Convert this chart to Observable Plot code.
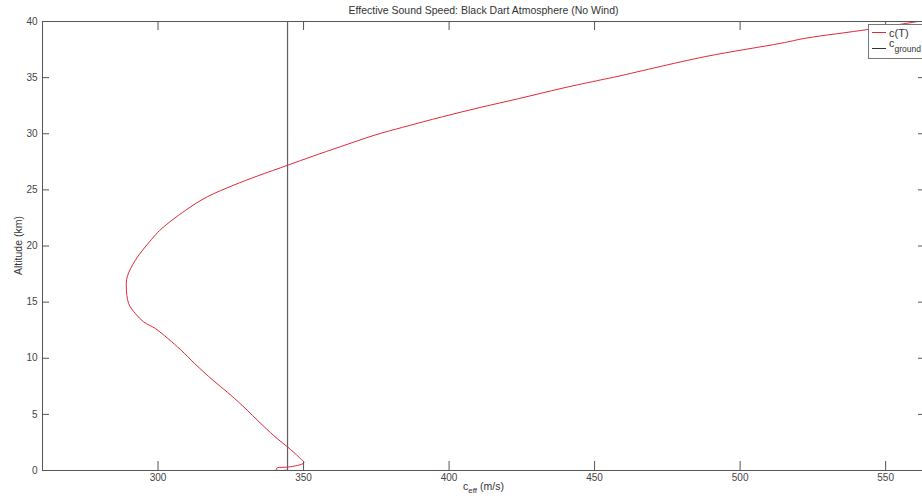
<!DOCTYPE html>
<html>
<head>
<meta charset="utf-8">
<script src="https://cdn.jsdelivr.net/npm/d3@7"></script>
<script src="https://cdn.jsdelivr.net/npm/@observablehq/plot@0.6"></script>
<style>
  html, body { margin: 0; padding: 0; background: #fff; overflow: hidden; }
  #wrap { width: 922px; height: 498px; overflow: hidden; position: relative; }
  #wrap svg { max-width: none !important; display: block; }
</style>
</head>
<body>
<div id="wrap"></div>
<script>
// ---- data ----
const altitudeKm = [0.04, 0.0, 0.09, 0.24, 0.31, 0.69, 1.19, 2.08, 2.83, 4.01, 5.80, 6.98, 8.03, 9.52, 10.77,
  12.64, 13.23, 13.98, 14.87, 16.35, 17.24, 18.73, 20.81, 21.56, 23.19, 24.38, 25.42, 26.23, 27.21, 28.01,
  28.84, 29.88, 30.57, 31.52, 32.36, 33.12, 34.05, 34.79, 35.03, 36.87, 38.06, 38.51, 39.31, 40.0];
const cEff = [344.5, 341.5, 340.6, 341.0, 344.8, 350.1, 348.4, 344.6, 341.0, 336.0, 328.9, 323.8, 318.9, 312.6, 307.7,
  299.1, 295.1, 292.2, 289.9, 289.1, 289.4, 292.2, 298.5, 301.3, 309.5, 316.9, 326.0, 334.1, 344.7, 353.3,
  362.6, 374.5, 384.0, 397.8, 411.0, 423.8, 438.8, 452.0, 456.5, 488.0, 514.0, 522.5, 544.5, 561.0];
const cGround = 344.5;
const xTicks = [300, 350, 400, 450, 500, 550];
const yTicks = [0, 5, 10, 15, 20, 25, 30, 35, 40];
const titleText = "Effective Sound Speed: Black Dart Atmosphere (No Wind)";
const yLabelText = "Altitude (km)";
const legendLabels = ["c(T)", "c", "ground"];

const profile = altitudeKm.map((a, i) => ({alt: a, c: cEff[i]}));

// ---- layout ----
const W = 925, H = 498, mT = 21, mB = 28, mL = 42, mR = 0;
const fw = W - mL - mR, fh = H - mT - mB;
const axisColor = "#555";
const font = "'Liberation Sans', Arial, Helvetica, sans-serif";

const chart = Plot.plot({
  width: W, height: H,
  marginTop: mT, marginBottom: mB, marginLeft: mL, marginRight: mR,
  x: {domain: [260.3, 563.7], label: null},
  y: {domain: [0, 40], label: null},
  style: {fontFamily: font, fontSize: "10px", color: "#444", background: "#fff", maxWidth: "none"},
  marks: [
    Plot.line(profile, {x: "c", y: "alt", stroke: "#e0283a", strokeWidth: 1, curve: "catmull-rom", clip: true}),
    Plot.ruleX([cGround], {stroke: "#606060", strokeWidth: 1.2}),
    Plot.frame({stroke: axisColor, strokeWidth: 1}),
    // inward ticks on all four sides (MATLAB style)
    Plot.tickX(xTicks, {x: d => d, insetTop: fh - 9, stroke: axisColor}),
    Plot.tickX(xTicks, {x: d => d, insetBottom: fh - 9, stroke: axisColor}),
    Plot.tickY(yTicks, {y: d => d, insetRight: fw - 7, stroke: axisColor}),
    Plot.tickY(yTicks, {y: d => d, insetLeft: fw - 7, stroke: axisColor}),
    Plot.axisX(xTicks, {tickSize: 0, tickPadding: 3, fill: "#444", fontSize: 10}),
    Plot.axisY(yTicks, {tickSize: 0, tickPadding: 5, fill: "#444", fontSize: 10})
  ]
});
chart.style.maxWidth = "none";
chart.setAttribute("width", W);

document.getElementById("wrap").appendChild(chart);

// ---- texts and legend ----
const svg = d3.select(chart);
const cx = mL + fw / 2;

svg.append("text")
  .attr("x", cx).attr("y", 14)
  .attr("text-anchor", "middle")
  .attr("font-family", font).attr("font-size", 10.5).attr("fill", "#333")
  .text(titleText);

const xl = svg.append("text")
  .attr("x", cx).attr("y", 490)
  .attr("text-anchor", "middle")
  .attr("font-family", font).attr("font-size", 10.5).attr("fill", "#333");
xl.append("tspan").text("c");
xl.append("tspan").attr("dy", 3).attr("font-size", 8).text("eff");
xl.append("tspan").attr("dy", -3).text("\u00a0(m/s)");

svg.append("text")
  .attr("transform", `translate(22,${mT + fh / 2}) rotate(-90)`)
  .attr("text-anchor", "middle")
  .attr("font-family", font).attr("font-size", 10.5).attr("fill", "#333")
  .text(yLabelText);

const lg = svg.append("g").attr("text-anchor", "start");
lg.append("rect")
  .attr("x", 868.5).attr("y", 24.5).attr("width", 80).attr("height", 34)
  .attr("fill", "#fff").attr("stroke", "#777").attr("stroke-width", 1);
lg.append("line").attr("x1", 872).attr("x2", 886).attr("y1", 32.5).attr("y2", 32.5)
  .attr("stroke", "#e0283a").attr("stroke-width", 1);
lg.append("line").attr("x1", 872).attr("x2", 886).attr("y1", 48.5).attr("y2", 48.5)
  .attr("stroke", "#333").attr("stroke-width", 1);
lg.append("text").attr("x", 889).attr("y", 36.5)
  .attr("text-anchor", "start")
  .attr("font-family", font).attr("font-size", 11).attr("fill", "#333")
  .text(legendLabels[0]);
const l2 = lg.append("text").attr("x", 889).attr("y", 47)
  .attr("text-anchor", "start")
  .attr("font-family", font).attr("font-size", 11).attr("fill", "#333");
l2.append("tspan").text(legendLabels[1]);
l2.append("tspan").attr("dy", 5).attr("font-size", 8.5).text(legendLabels[2]);
</script>
</body>
</html>
